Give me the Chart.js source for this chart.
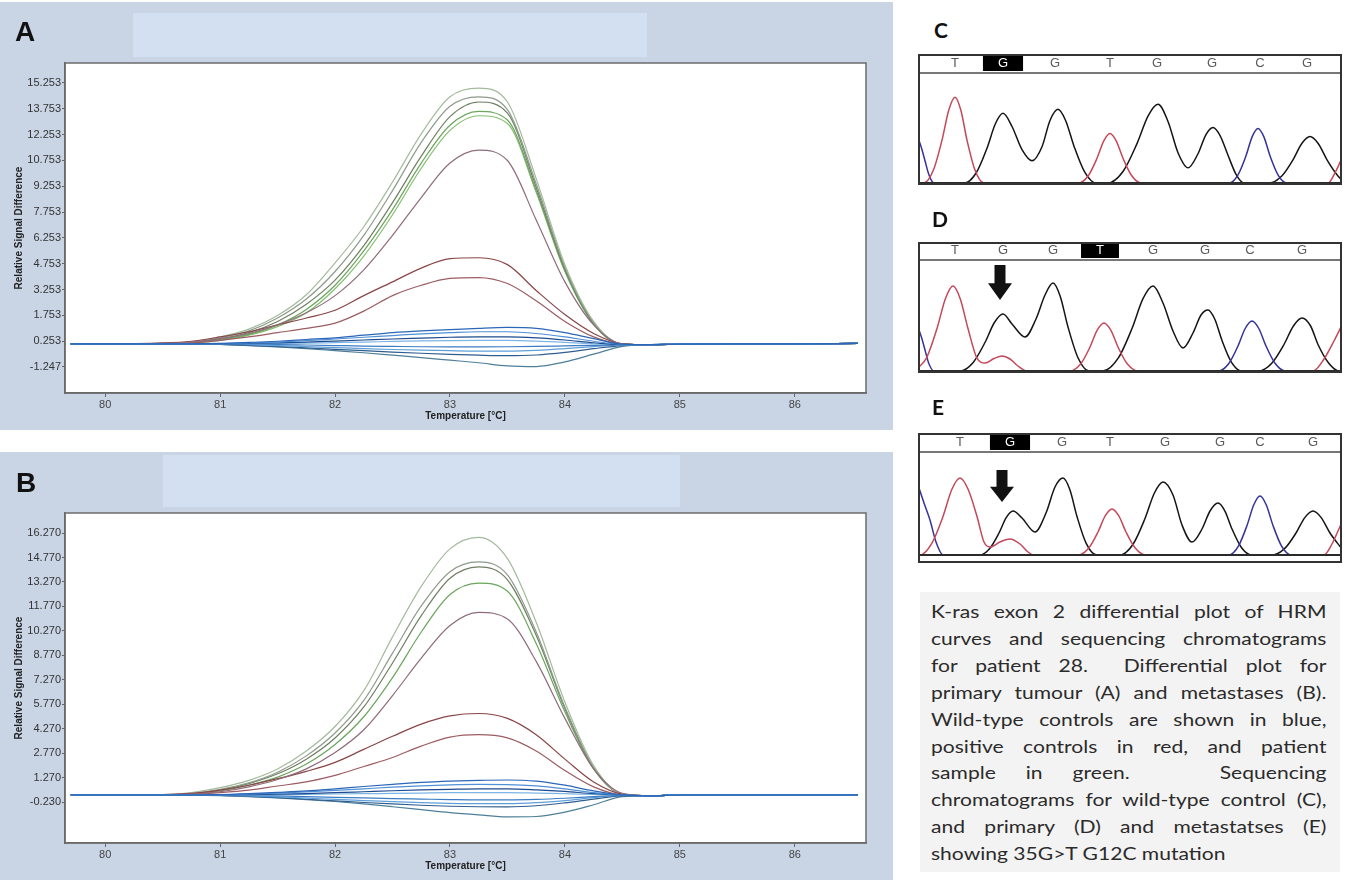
<!DOCTYPE html>
<html>
<head>
<meta charset="utf-8">
<script src="https://cdn.jsdelivr.net/npm/chart.js@4.4.1/dist/chart.umd.min.js"></script>
<style>
  html, body { margin: 0; padding: 0; background: #fff; }
  #page { position: relative; width: 1346px; height: 880px; overflow: hidden; }
  canvas { position: absolute; }
  .melt { filter: blur(0.4px); }
  .panel-letter { position: absolute; font-weight: bold; line-height: 1; color: #111; }
  .hrm-letter { font-family: "Liberation Sans", Arial, sans-serif; font-size: 28px; }
  .seq-letter { font-family: Lato, "Open Sans", sans-serif; font-size: 21px; }
  #caption-bg { position: absolute; left: 920px; top: 592px; width: 420px; height: 280px; background: #f3f3f3; }
  #caption {
    position: absolute; left: 931px; top: 598px; width: 338px;
    transform: scaleX(1.17); transform-origin: left top;
    font-family: Lato, "Open Sans", sans-serif; font-size: 18px; line-height: 26.9px; color: #2b2b2b;
  }
  #caption div { text-align: justify; text-align-last: justify; }
  #caption div.last { text-align: left; text-align-last: left; }
</style>
</head>
<body>
<div id="page">
  <canvas id="primaryChart" class="melt" width="893" height="428" style="left:0;top:2px"></canvas>
  <canvas id="metChart" class="melt" width="893" height="428" style="left:0;top:452px"></canvas>
  <canvas id="seqWild" width="424" height="131" style="left:918px;top:54px"></canvas>
  <canvas id="seqPrimary" width="424" height="131" style="left:918px;top:242px"></canvas>
  <canvas id="seqMet" width="424" height="130" style="left:918px;top:433px"></canvas>

  <div class="panel-letter hrm-letter" style="left:15px;top:18px">A</div>
  <div class="panel-letter hrm-letter" style="left:16px;top:469px">B</div>
  <div class="panel-letter seq-letter" style="left:934px;top:19px">C</div>
  <div class="panel-letter seq-letter" style="left:932px;top:208px">D</div>
  <div class="panel-letter seq-letter" style="left:932px;top:396px">E</div>

  <div id="caption-bg"></div>
  <div id="caption">
    <div>K-ras exon 2 differential plot of HRM</div>
    <div>curves and sequencing chromatograms</div>
    <div>for patient 28.&nbsp; Differential plot for</div>
    <div>primary tumour (A) and metastases (B).</div>
    <div>Wild-type controls are shown in blue,</div>
    <div>positive controls in red, and patient</div>
    <div>sample in green.&nbsp;&nbsp; Sequencing</div>
    <div>chromatograms for wild-type control (C),</div>
    <div>and primary (D) and metastatses (E)</div>
    <div class="last">showing 35G&gt;T G12C mutation</div>
  </div>
</div>

<script>
"use strict";

// ---- melt curve data (temperature in °C, relative signal difference) ----
const meltTemps = [79.7, 80.0, 80.5, 80.75, 81.0, 81.25, 81.5, 81.75, 82.0, 82.25, 82.5, 82.75,
  83.0, 83.25, 83.5, 83.75, 84.0, 84.25, 84.5, 84.75, 85.0, 85.5, 86.0, 86.55];
const meltTicksX = [80, 81, 82, 83, 84, 85, 86];
const primaryTicksY = [-1.247, 0.253, 1.753, 3.253, 4.753, 6.253, 7.753, 9.253, 10.753, 12.253, 13.753, 15.253];
const metTicksY = [-0.23, 1.27, 2.77, 4.27, 5.77, 7.27, 8.77, 10.27, 11.77, 13.27, 14.77, 16.27];

// primary tumour (A)
const primaryPatient = [
  [0.10, 0.10, 0.12, 0.22, 0.50, 0.95, 1.75, 2.95, 4.80, 6.90, 9.50, 12.30, 14.45, 14.95, 14.15, 9.70, 4.70, 1.40, 0.08, 0.05, 0.08, 0.10, 0.10, 0.12],
  [0.10, 0.10, 0.11, 0.20, 0.45, 0.85, 1.60, 2.70, 4.30, 6.40, 9.00, 11.80, 13.90, 14.45, 13.70, 9.40, 4.55, 1.35, 0.08, 0.05, 0.08, 0.10, 0.10, 0.12],
  [0.10, 0.10, 0.10, 0.18, 0.40, 0.75, 1.40, 2.40, 3.80, 5.80, 8.30, 11.00, 13.30, 14.15, 13.50, 9.20, 4.45, 1.30, 0.08, 0.05, 0.08, 0.10, 0.10, 0.12],
  [0.10, 0.10, 0.10, 0.16, 0.35, 0.65, 1.20, 2.10, 3.50, 5.50, 7.90, 10.60, 12.80, 13.60, 13.10, 9.00, 4.35, 1.25, 0.08, 0.05, 0.08, 0.10, 0.10, 0.12],
  [0.10, 0.10, 0.10, 0.15, 0.30, 0.60, 1.10, 1.90, 3.30, 5.20, 7.60, 10.30, 12.50, 13.35, 12.90, 8.90, 4.30, 1.25, 0.08, 0.05, 0.08, 0.10, 0.10, 0.12],
];
const primaryPositive = [
  [0.10, 0.10, 0.12, 0.20, 0.40, 0.70, 1.20, 1.90, 2.90, 4.40, 6.40, 8.60, 10.60, 11.35, 10.75, 7.30, 3.70, 1.20, 0.10, 0.05, 0.08, 0.10, 0.10, 0.12],
  [0.10, 0.10, 0.15, 0.25, 0.50, 0.80, 1.20, 1.60, 2.05, 2.90, 3.70, 4.50, 5.05, 5.10, 4.70, 3.20, 1.80, 0.70, 0.10, 0.05, 0.08, 0.10, 0.10, 0.12],
  [0.10, 0.10, 0.10, 0.15, 0.30, 0.50, 0.75, 1.00, 1.30, 2.00, 2.90, 3.50, 3.90, 3.95, 3.60, 2.60, 1.40, 0.50, 0.08, 0.05, 0.08, 0.10, 0.10, 0.12],
];
const primaryWild = [
  [0.10, 0.10, 0.10, 0.10, 0.12, 0.18, 0.25, 0.35, 0.45, 0.60, 0.75, 0.85, 0.92, 1.00, 1.05, 1.00, 0.75, 0.40, 0.08, 0.05, 0.08, 0.10, 0.10, 0.12],
  [0.10, 0.10, 0.10, 0.10, 0.11, 0.15, 0.20, 0.28, 0.38, 0.48, 0.58, 0.68, 0.75, 0.80, 0.80, 0.70, 0.50, 0.25, 0.06, 0.05, 0.08, 0.10, 0.10, 0.12],
  [0.10, 0.10, 0.10, 0.10, 0.10, 0.12, 0.15, 0.20, 0.26, 0.32, 0.38, 0.43, 0.48, 0.50, 0.50, 0.44, 0.32, 0.16, 0.05, 0.05, 0.08, 0.10, 0.10, 0.12],
  [0.10, 0.10, 0.10, 0.10, 0.10, 0.11, 0.12, 0.14, 0.17, 0.20, 0.24, 0.27, 0.29, 0.30, 0.30, 0.26, 0.18, 0.10, 0.04, 0.05, 0.08, 0.10, 0.10, 0.12],
  [0.10, 0.10, 0.10, 0.10, 0.09, 0.08, 0.06, 0.03, 0.00, -0.03, -0.05, -0.07, -0.08, -0.08, -0.07, -0.05, -0.02, 0.01, 0.03, 0.05, 0.08, 0.10, 0.10, 0.12],
  [0.10, 0.10, 0.10, 0.10, 0.08, 0.05, 0.00, -0.06, -0.12, -0.18, -0.23, -0.27, -0.30, -0.32, -0.32, -0.28, -0.18, -0.06, 0.03, 0.05, 0.08, 0.10, 0.10, 0.12],
  [0.10, 0.10, 0.10, 0.09, 0.06, 0.01, -0.06, -0.14, -0.22, -0.30, -0.38, -0.45, -0.51, -0.56, -0.59, -0.55, -0.40, -0.18, 0.00, 0.05, 0.08, 0.10, 0.10, 0.12],
  [0.10, 0.10, 0.10, 0.09, 0.06, 0.00, -0.08, -0.18, -0.30, -0.42, -0.56, -0.70, -0.85, -1.00, -1.18, -1.22, -0.95, -0.50, -0.05, 0.05, 0.08, 0.10, 0.10, 0.12],
];

// metastases (B)
const metPatient = [
  [0.20, 0.20, 0.22, 0.35, 0.65, 1.10, 1.80, 2.90, 4.40, 6.60, 9.90, 13.00, 15.30, 16.00, 14.70, 10.80, 5.90, 2.00, 0.25, 0.15, 0.20, 0.20, 0.20, 0.20],
  [0.20, 0.20, 0.21, 0.30, 0.55, 0.95, 1.60, 2.60, 4.00, 6.00, 8.90, 11.80, 13.90, 14.50, 13.70, 10.20, 5.60, 1.90, 0.25, 0.15, 0.20, 0.20, 0.20, 0.20],
  [0.20, 0.20, 0.20, 0.28, 0.50, 0.90, 1.50, 2.40, 3.70, 5.60, 8.30, 11.20, 13.50, 14.20, 13.40, 10.00, 5.50, 1.85, 0.25, 0.15, 0.20, 0.20, 0.20, 0.20],
  [0.20, 0.20, 0.20, 0.26, 0.45, 0.80, 1.30, 2.10, 3.30, 5.00, 7.40, 10.20, 12.50, 13.20, 12.70, 9.50, 5.30, 1.80, 0.25, 0.15, 0.20, 0.20, 0.20, 0.20],
];
const metPositive = [
  [0.20, 0.20, 0.20, 0.25, 0.40, 0.70, 1.15, 1.80, 2.80, 4.20, 6.30, 8.60, 10.60, 11.40, 11.00, 8.40, 4.90, 1.80, 0.30, 0.15, 0.20, 0.20, 0.20, 0.20],
  [0.20, 0.20, 0.22, 0.30, 0.50, 0.80, 1.20, 1.65, 2.20, 3.00, 3.80, 4.55, 5.05, 5.20, 4.90, 3.90, 2.40, 1.00, 0.25, 0.15, 0.20, 0.20, 0.20, 0.20],
  [0.20, 0.20, 0.20, 0.25, 0.35, 0.50, 0.75, 1.00, 1.40, 1.95, 2.50, 3.20, 3.75, 3.90, 3.70, 2.90, 1.70, 0.70, 0.20, 0.15, 0.20, 0.20, 0.20, 0.20],
];
const metWild = [
  [0.20, 0.20, 0.20, 0.20, 0.22, 0.28, 0.36, 0.45, 0.58, 0.72, 0.85, 0.97, 1.05, 1.10, 1.12, 1.05, 0.80, 0.45, 0.20, 0.15, 0.20, 0.20, 0.20, 0.20],
  [0.20, 0.20, 0.20, 0.20, 0.21, 0.25, 0.31, 0.39, 0.48, 0.58, 0.68, 0.76, 0.82, 0.85, 0.84, 0.76, 0.58, 0.35, 0.20, 0.15, 0.20, 0.20, 0.20, 0.20],
  [0.20, 0.20, 0.20, 0.20, 0.20, 0.22, 0.25, 0.29, 0.34, 0.40, 0.46, 0.51, 0.55, 0.58, 0.58, 0.52, 0.42, 0.28, 0.20, 0.15, 0.20, 0.20, 0.20, 0.20],
  [0.20, 0.20, 0.20, 0.20, 0.20, 0.21, 0.22, 0.24, 0.26, 0.28, 0.30, 0.32, 0.34, 0.35, 0.35, 0.32, 0.28, 0.23, 0.20, 0.15, 0.20, 0.20, 0.20, 0.20],
  [0.20, 0.20, 0.20, 0.20, 0.19, 0.17, 0.14, 0.10, 0.06, 0.02, -0.02, -0.05, -0.08, -0.10, -0.10, -0.07, 0.00, 0.10, 0.18, 0.15, 0.20, 0.20, 0.20, 0.20],
  [0.20, 0.20, 0.20, 0.20, 0.18, 0.14, 0.08, 0.01, -0.07, -0.14, -0.21, -0.27, -0.31, -0.33, -0.33, -0.27, -0.14, 0.04, 0.17, 0.15, 0.20, 0.20, 0.20, 0.20],
  [0.20, 0.20, 0.20, 0.20, 0.17, 0.12, 0.04, -0.06, -0.16, -0.26, -0.35, -0.43, -0.49, -0.52, -0.53, -0.46, -0.28, -0.05, 0.15, 0.15, 0.20, 0.20, 0.20, 0.20],
  [0.20, 0.20, 0.20, 0.19, 0.16, 0.10, 0.02, -0.08, -0.20, -0.35, -0.52, -0.70, -0.88, -1.02, -1.14, -1.12, -0.85, -0.40, 0.10, 0.15, 0.20, 0.20, 0.20, 0.20],
];

const patientColors = ["#a3bb9c", "#8e9a8c", "#6f7f62", "#6aa65c", "#85bf72"];
const positiveColors = ["#8f6b7c", "#8a4646", "#9c5c62"];
const wildColors = ["#2b66b8", "#4f90d6", "#1d4b8e", "#7db5e6", "#3c7cc4", "#5fa0d9", "#2f5d8f", "#4e7f99"];

// ---- sequencing traces (scan position, signal) ----
const baseLetters = ["T", "G", "G", "T", "G", "G", "C", "G"];

// wild-type control (C)
const wildBases = [18.5, 42.5, 68.5, 96, 119.5, 147, 171, 194.5];
const wildTraceG = [[0, 0], [23.3, 0], [29.2, 104], [34.5, 345], [38.7, 587], [42.5, 690], [47, 560], [52, 330], [57, 220],
  [62, 360], [66, 620], [70, 730], [73.8, 620], [78, 365], [83.3, 110], [89, 0], [94.8, 0], [102.6, 117], [109.5, 390],
  [115, 663], [120, 780], [125, 610], [130, 300], [135, 150], [140, 290], [144, 480], [147.5, 550], [151.1, 468],
  [155, 275], [159.1, 83], [163, 0], [175.6, 0], [181.9, 69], [187.5, 230], [191.9, 391], [196, 460], [200.1, 391],
  [204.5, 230], [210, 69], [212, 30]];
const wildTraceT = [[0, 0], [2.9, 0], [7.7, 128], [12, 425], [15.4, 723], [18.5, 850], [21.4, 723], [24.5, 425],
  [28.5, 128], [33, 0], [80.4, 0], [85.2, 74], [89.5, 245], [92.9, 417], [96, 490], [99.1, 417], [102.5, 245],
  [106.8, 74], [111.6, 0], [205, 0], [209, 120], [212, 250]];
const wildTraceC = [[0, 450], [2, 330], [3.5, 220], [5.5, 80], [8, 0], [155.6, 0], [160, 81], [164, 270], [167.1, 459],
  [170, 540], [172.9, 459], [176, 270], [180, 81], [184.4, 0], [212, 0]];

// primary tumour (D)
const primaryBases = [18.5, 42.5, 67.5, 91, 117.5, 143.5, 166, 192];
const primaryTraceG = [[0, 0], [20.9, 0], [27.6, 86], [33.5, 285], [38.2, 485], [42.5, 570], [47, 470], [53.5, 340],
  [59, 520], [63.5, 760], [67.5, 880], [71.1, 748], [75, 440], [80, 132], [85.5, 0], [92.3, 0], [100.1, 128],
  [107, 425], [112.5, 723], [117.5, 850], [122.5, 680], [127.5, 400], [132.5, 230], [137.5, 380], [141.5, 560],
  [145, 610], [148.4, 518], [152, 305], [156.6, 92], [161.8, 0], [170.4, 0], [177, 80], [183, 265], [187.7, 450],
  [192, 530], [196.3, 450], [200, 265], [205.3, 80], [210.6, 0], [212, 0]];
const primaryTraceT = [[0, 30], [4.2, 128], [9.5, 425], [13.7, 723], [17.5, 850], [21.1, 723], [25, 425], [29.5, 128],
  [33.5, 80], [38, 125], [42, 150], [46, 120], [50, 50], [54.5, 0], [76.2, 0], [81.4, 72], [86, 240], [89.6, 408],
  [93, 480], [96.4, 408], [100, 240], [104.6, 72], [109.8, 0], [197.5, 0], [203, 120], [208, 300], [212, 460]];
const primaryTraceC = [[0, 440], [2, 320], [3.5, 210], [5.5, 70], [8, 0], [150.2, 0], [155.4, 75], [160, 250],
  [163.6, 425], [167, 500], [170.4, 425], [174, 250], [178.6, 75], [183.8, 0], [212, 0]];

// metastases (E)
const metBases = [21, 46, 72, 96, 123.5, 151, 171, 197.5];
const metTraceG = [[0, 0], [30.7, 0], [35.9, 66], [40.5, 220], [44.1, 374], [47.5, 440], [52, 370], [58.5, 230],
  [64, 420], [68.5, 680], [72.5, 770], [75.9, 655], [79.5, 385], [84.1, 116], [89.3, 0], [100.9, 0], [107.6, 110],
  [113.5, 365], [118.2, 620], [122.5, 730], [127.5, 600], [132, 300], [137, 130], [142, 260], [146, 440], [150, 520],
  [153.4, 442], [157, 260], [161.6, 78], [166.8, 0], [177.1, 0], [183.4, 66], [189, 220], [193.4, 374], [197.5, 440],
  [201.6, 374], [206, 220], [212, 60]];
const metTraceT = [[0, 0], [1, 0], [6.9, 116], [12.5, 385], [16.9, 655], [21, 770], [25.1, 655], [29.5, 385],
  [33, 130], [36, 80], [41, 130], [46, 160], [51, 110], [55, 30], [58, 0], [80.2, 0], [85.4, 69], [90, 230],
  [93.6, 391], [97, 460], [100.4, 391], [104, 230], [108.6, 69], [113.8, 0], [203, 0], [207, 110], [210, 240], [212, 330]];
const metTraceC = [[0, 700], [3, 520], [6, 350], [9, 130], [12.5, 0], [155.4, 0], [160.2, 89], [164.5, 295],
  [167.9, 502], [171, 590], [174.1, 502], [177.5, 295], [181.8, 89], [186.6, 0], [212, 0]];

// mutated base marker: scan position, arrow top and tip signal
const primaryArrow = { x: 41, top: 1060, tip: 710 };
const metArrow = { x: 42, top: 850, tip: 530 };

// ---------------------------------------------------------------------------

const tickFont = { family: "'Liberation Sans', Arial, sans-serif", size: 11 };
const titleFont = { family: "'Liberation Sans', Arial, sans-serif", size: 10, weight: "bold" };

function meltSeries(values, color) {
  return {
    data: values.map((v, i) => ({ x: meltTemps[i], y: v })),
    borderColor: color,
    borderWidth: 1.2,
    pointRadius: 0,
    fill: false,
    cubicInterpolationMode: "monotone",
  };
}

const meltPanel = {
  id: "meltPanel",
  beforeDraw(chart, args, opts) {
    const { ctx, width, height, chartArea: a } = chart;
    ctx.save();
    ctx.fillStyle = "#c9d5e5";
    ctx.fillRect(0, 0, width, height);
    ctx.fillStyle = "#d3e0f2";
    ctx.fillRect(opts.strip[0], opts.strip[1], opts.strip[2], opts.strip[3]);
    ctx.fillStyle = "#ffffff";
    ctx.fillRect(a.left, a.top, a.right - a.left, a.bottom - a.top);
    ctx.restore();
  },
  afterDraw(chart) {
    const { ctx, chartArea: a } = chart;
    ctx.save();
    ctx.strokeStyle = "#6b6b6b";
    ctx.lineWidth = 1.5;
    ctx.strokeRect(a.left, a.top, a.right - a.left, a.bottom - a.top);
    ctx.restore();
  },
};

function makeMeltChart(id, groups, yTicks, yMin, yMax, strip) {
  const datasets = [];
  groups.wild.forEach((v, i) => datasets.push(meltSeries(v, wildColors[i])));
  groups.positive.forEach((v, i) => datasets.push(meltSeries(v, positiveColors[i])));
  groups.patient.forEach((v, i) => datasets.push(meltSeries(v, patientColors[i])));

  return new Chart(document.getElementById(id), {
    type: "line",
    data: { datasets },
    plugins: [meltPanel],
    options: {
      responsive: false,
      animation: false,
      devicePixelRatio: 1,
      layout: { padding: { top: 61, right: 27, bottom: 0, left: 0 } },
      plugins: {
        legend: { display: false },
        tooltip: { enabled: false },
        meltPanel: { strip },
      },
      scales: {
        x: {
          type: "linear",
          min: 79.65,
          max: 86.62,
          afterBuildTicks: (s) => { s.ticks = meltTicksX.map((v) => ({ value: v })); },
          afterFit: (s) => { s.height = 37; },
          ticks: { autoSkip: false, maxRotation: 0, padding: 1, color: "#454545", font: tickFont, callback: (v) => String(v) },
          grid: { drawOnChartArea: false, tickLength: 4, color: "#666" },
          border: { color: "#666", width: 1.5 },
          title: { display: true, text: "Temperature [°C]", color: "#222", font: titleFont, padding: { top: 0, bottom: 8 } },
        },
        y: {
          type: "linear",
          min: yMin,
          max: yMax,
          afterBuildTicks: (s) => { s.ticks = yTicks.map((v) => ({ value: v })); },
          afterFit: (s) => { s.width = 65; },
          ticks: { autoSkip: false, padding: 1, color: "#333", font: tickFont, callback: (v) => v.toFixed(3) },
          grid: { drawOnChartArea: false, tickLength: 3, color: "#666" },
          border: { color: "#666", width: 1.5 },
          title: { display: true, text: "Relative Signal Difference", color: "#222", font: titleFont, padding: { top: 13, bottom: 0 } },
        },
      },
    },
  });
}

const traceFrame = {
  id: "traceFrame",
  beforeDraw(chart) {
    const { ctx, width, height } = chart;
    ctx.save();
    ctx.fillStyle = "#ffffff";
    ctx.fillRect(0, 0, width, height);
    ctx.restore();
  },
  afterDraw(chart, args, opts) {
    const { ctx, width, height, scales } = chart;
    ctx.save();
    const y0 = scales.y.getPixelForValue(0);
    ctx.strokeStyle = "#2a2a2a";
    ctx.lineWidth = 2;
    ctx.beginPath();
    ctx.moveTo(0, y0);
    ctx.lineTo(width, y0);
    ctx.stroke();

    if (opts.arrow) {
      const x = scales.x.getPixelForValue(opts.arrow.x);
      const top = scales.y.getPixelForValue(opts.arrow.top);
      const tip = scales.y.getPixelForValue(opts.arrow.tip);
      const neck = top + (tip - top) * 0.52;
      ctx.fillStyle = "#111";
      ctx.beginPath();
      ctx.moveTo(x - 5.5, top);
      ctx.lineTo(x + 5.5, top);
      ctx.lineTo(x + 5.5, neck);
      ctx.lineTo(x + 12, neck);
      ctx.lineTo(x, tip);
      ctx.lineTo(x - 12, neck);
      ctx.lineTo(x - 5.5, neck);
      ctx.closePath();
      ctx.fill();
    }

    ctx.strokeStyle = "#333";
    ctx.lineWidth = 2;
    ctx.strokeRect(1, 1, width - 2, height - 2);
    ctx.restore();
  },
};

function traceSeries(points, color) {
  return {
    data: points.map((p) => ({ x: p[0], y: p[1] })),
    borderColor: color,
    borderWidth: 1.5,
    pointRadius: 0,
    fill: false,
    cubicInterpolationMode: "monotone",
  };
}

function makeTraceChart(id, trace, bases, highlight, yMax, barHeight, padBottom, arrow) {
  return new Chart(document.getElementById(id), {
    type: "line",
    data: {
      datasets: [
        traceSeries(trace.t, "#c4485a"),
        traceSeries(trace.c, "#33339a"),
        traceSeries(trace.g, "#141414"),
      ],
    },
    plugins: [traceFrame],
    options: {
      responsive: false,
      animation: false,
      devicePixelRatio: 1,
      layout: { padding: { top: 0, right: 2, bottom: padBottom, left: 2 } },
      plugins: {
        legend: { display: false },
        tooltip: { enabled: false },
        traceFrame: { arrow },
      },
      scales: {
        x: {
          type: "linear",
          position: "top",
          min: 1,
          max: 211,
          afterBuildTicks: (s) => { s.ticks = bases.map((v) => ({ value: v })); },
          afterFit: (s) => { s.height = barHeight; },
          ticks: {
            autoSkip: false,
            maxRotation: 0,
            padding: 3,
            font: { family: "'Liberation Sans', Arial, sans-serif", size: 13, lineHeight: 1 },
            color: (ctx) => (ctx.index === highlight ? "#fff" : "#5a5a5a"),
            showLabelBackdrop: (ctx) => ctx.index === highlight,
            backdropColor: "#000",
            backdropPadding: { left: 15, right: 15, top: 2, bottom: 1 },
            callback: (v, i) => baseLetters[i],
          },
          grid: { drawOnChartArea: false, drawTicks: false },
          border: { color: "#777", width: 2 },
        },
        y: { display: false, min: 0, max: yMax },
      },
    },
  });
}

makeMeltChart("primaryChart",
  { patient: primaryPatient, positive: primaryPositive, wild: primaryWild },
  primaryTicksY, -2.758, 16.415, [133, 11, 514, 44]);
makeMeltChart("metChart",
  { patient: metPatient, positive: metPositive, wild: metWild },
  metTicksY, -2.745, 17.5, [163, 3, 517, 52]);

makeTraceChart("seqWild", { g: wildTraceG, t: wildTraceT, c: wildTraceC },
  wildBases, 1, 1090, 19, 2, null);
makeTraceChart("seqPrimary", { g: primaryTraceG, t: primaryTraceT, c: primaryTraceC },
  primaryBases, 3, 1110, 18, 2, primaryArrow);
makeTraceChart("seqMet", { g: metTraceG, t: metTraceT, c: metTraceC },
  metBases, 1, 1030, 19, 8, metArrow);
</script>
</body>
</html>
